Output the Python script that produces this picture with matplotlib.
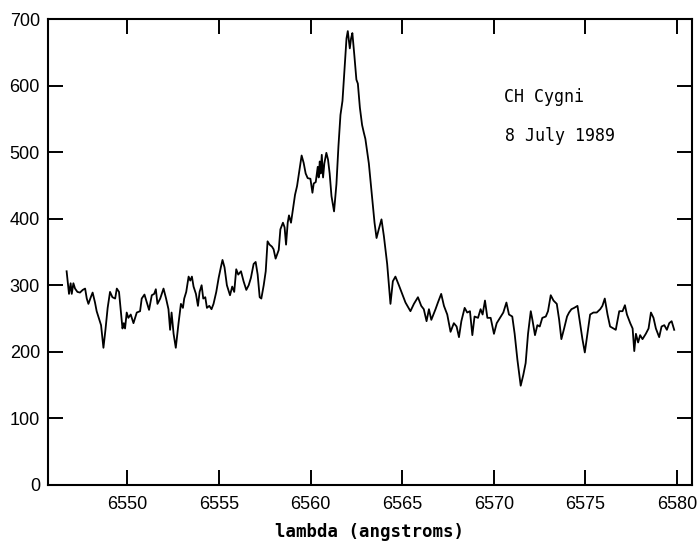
import matplotlib
matplotlib.use("Agg")
import matplotlib.pyplot as plt

wavelength = [
6546.68,6546.81,6546.90,6546.96,6547.05,6547.14,6547.27,6547.41,6547.56,6547.69,
6547.78,6547.87,6548.00,6548.10,6548.23,6548.32,6548.47,6548.56,6548.69,6548.80,
6548.92,6549.05,6549.18,6549.33,6549.42,6549.54,6549.65,6549.73,6549.80,6549.87,
6549.96,6550.05,6550.18,6550.33,6550.51,6550.69,6550.78,6550.93,6551.06,6551.18,
6551.33,6551.46,6551.55,6551.64,6551.79,6551.97,6552.11,6552.24,6552.33,6552.41,
6552.52,6552.64,6552.79,6552.92,6553.03,6553.10,6553.21,6553.34,6553.43,6553.52,
6553.61,6553.74,6553.85,6553.94,6554.05,6554.14,6554.25,6554.34,6554.47,6554.59,
6554.70,6554.85,6554.98,6555.10,6555.19,6555.30,6555.43,6555.60,6555.72,6555.83,
6555.94,6556.05,6556.20,6556.34,6556.49,6556.62,6556.74,6556.89,6557.00,6557.11,
6557.22,6557.31,6557.44,6557.55,6557.65,6557.76,6557.89,6557.98,6558.09,6558.26,
6558.35,6558.49,6558.58,6558.66,6558.75,6558.82,6558.93,6559.04,6559.15,6559.26,
6559.39,6559.51,6559.62,6559.73,6559.84,6559.99,6560.10,6560.17,6560.28,6560.39,
6560.44,6560.50,6560.55,6560.61,6560.68,6560.75,6560.86,6560.95,6561.04,6561.14,
6561.28,6561.41,6561.52,6561.63,6561.74,6561.85,6561.96,6562.03,6562.14,6562.21,
6562.28,6562.39,6562.50,6562.58,6562.69,6562.81,6562.90,6562.99,6563.18,6563.36,
6563.49,6563.60,6563.72,6563.87,6564.00,6564.18,6564.36,6564.49,6564.63,6564.82,
6565.00,6565.18,6565.45,6565.64,6565.86,6566.04,6566.18,6566.33,6566.46,6566.59,
6566.82,6566.95,6567.13,6567.28,6567.46,6567.64,6567.82,6567.97,6568.10,6568.23,
6568.41,6568.55,6568.70,6568.83,6568.95,6569.14,6569.28,6569.39,6569.52,6569.65,
6569.83,6570.01,6570.16,6570.34,6570.52,6570.69,6570.83,6571.01,6571.14,6571.29,
6571.47,6571.61,6571.74,6571.87,6572.02,6572.11,6572.25,6572.38,6572.51,6572.65,
6572.84,6572.96,6573.11,6573.26,6573.44,6573.57,6573.69,6573.84,6574.00,6574.11,
6574.24,6574.39,6574.57,6574.71,6574.84,6574.97,6575.11,6575.26,6575.44,6575.62,
6575.81,6575.93,6576.06,6576.21,6576.35,6576.54,6576.66,6576.85,6577.03,6577.16,
6577.27,6577.45,6577.58,6577.67,6577.76,6577.88,6577.99,6578.12,6578.30,6578.45,
6578.58,6578.72,6578.85,6579.03,6579.16,6579.31,6579.45,6579.58,6579.71,6579.85,
]

flux = [
321,287,303,287,303,295,290,289,293,295,
280,272,282,289,274,261,248,240,206,233,
266,290,282,280,295,290,259,235,243,235,
259,251,256,243,259,261,280,286,274,263,
285,287,294,272,280,295,280,264,233,259,
227,206,243,272,266,280,290,313,307,313,
298,287,269,290,300,280,282,266,269,264,
272,290,311,327,338,327,300,285,298,290,
324,316,321,306,293,300,311,332,335,316,
282,280,300,321,366,361,358,354,340,353,
384,394,387,361,394,405,394,415,436,449,
473,495,484,468,461,460,439,453,455,478,
462,486,468,496,462,483,499,489,468,434,
411,452,509,556,577,624,671,682,656,671,
679,645,609,603,567,541,530,520,483,431,
394,371,384,399,374,332,272,306,313,300,
287,274,261,272,282,269,264,246,264,248,
264,274,287,269,256,230,243,238,222,246,
266,259,261,225,253,251,264,256,277,251,
251,227,243,251,259,274,256,253,227,188,
149,165,183,227,261,248,225,240,238,251,
253,261,285,277,272,248,219,235,253,259,
264,266,269,243,219,199,227,256,259,259,
264,269,280,256,238,235,233,261,261,270,
256,243,235,201,227,214,225,219,227,235,
259,251,235,222,238,240,233,243,246,233,
]

x_ticks = [6550, 6555, 6560, 6565, 6570, 6575, 6580]
y_ticks = [0, 100, 200, 300, 400, 500, 600, 700]
x_label = "lambda (angstroms)"
annot_lines = ["CH Cygni", "8 July 1989"]

fig = plt.figure(figsize=(7.0, 5.46), dpi=100)
ax = fig.add_axes([0.069, 0.112, 0.919, 0.853])

ax.plot(wavelength, flux, color="black", lw=1.3)

ax.set_xlim(6545.68, 6580.8)
ax.set_ylim(0, 700)
ax.set_xticks(x_ticks)
ax.set_yticks(y_ticks)
ax.tick_params(direction="in", length=11, width=1.4, top=True, right=True,
               labeltop=False, labelright=False, labelsize=13, colors="black")
ax.tick_params(axis="x", pad=8)
ax.tick_params(axis="y", pad=6)
for lab in ax.get_xticklabels() + ax.get_yticklabels():
    lab.set_family("Liberation Sans")
for s in ax.spines.values():
    s.set_linewidth(1.5)
    s.set_color("black")

ax.set_xlabel(x_label, family="DejaVu Sans Mono", fontweight="bold", fontsize=12.5,
              labelpad=7)

ax.text(6570.54, 583, annot_lines[0], family="DejaVu Sans Mono", fontsize=12,
        va="center", ha="left")
ax.text(6570.6, 525, annot_lines[1], family="DejaVu Sans Mono", fontsize=12,
        va="center", ha="left")

fig.savefig("out.png", dpi=100)
